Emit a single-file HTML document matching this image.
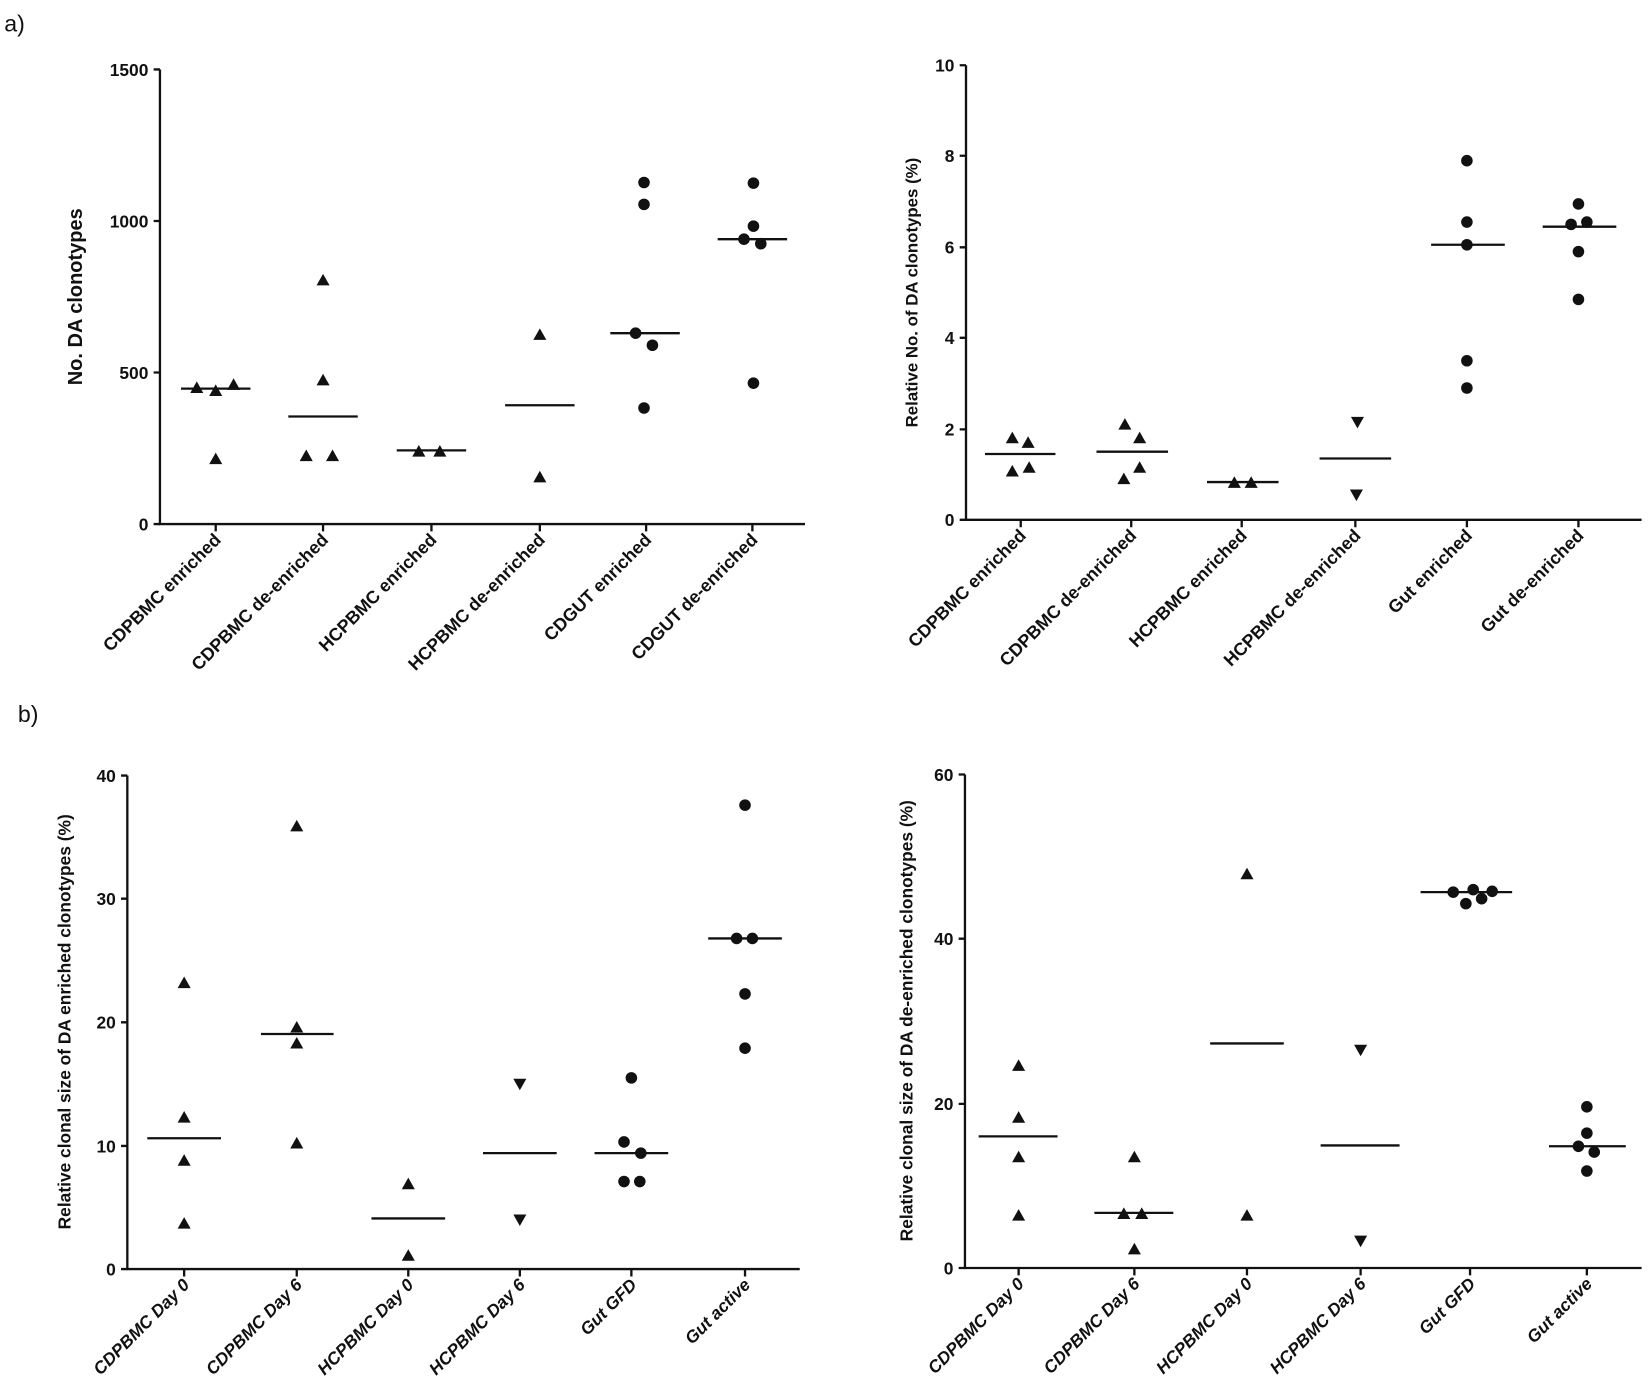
<!DOCTYPE html>
<html><head><meta charset="utf-8"><style>
html,body{margin:0;padding:0;background:#fff;}
svg{display:block;}
text{font-family:"Liberation Sans",Arial,sans-serif;fill:#111;}
.t{font-weight:bold;font-size:16.5px;text-anchor:end;}
.xl{font-weight:bold;font-size:17px;text-anchor:end;}
.xi{font-weight:bold;font-size:16.5px;text-anchor:end;font-style:italic;}
.yl{font-weight:bold;text-anchor:middle;}
</style></head><body>
<svg width="1650" height="1388" viewBox="0 0 1568 1319" xmlns="http://www.w3.org/2000/svg">
<defs>
<path id="u" d="M0,-6 L6.2,5 L-6.2,5 Z" fill="#111"/>
<path id="d" d="M0,6 L6.2,-5 L-6.2,-5 Z" fill="#111"/>
<circle id="c" r="5.5" fill="#111"/>
</defs>
<g stroke="#111" stroke-width="2.2" fill="none">
<path d="M152,66 V498 H765"/>
<path d="M146,66H152 M146,210H152 M146,354H152 M146,498H152"/>
<path d="M205,498V505 M307,498V505 M410,498V505 M513,498V505 M614,498V505 M715,498V505"/>
<path d="M918,62 V494 H1560"/>
<path d="M912,62H918 M912,148H918 M912,235H918 M912,321H918 M912,408H918 M912,494H918"/>
<path d="M970,494V501 M1075,494V501 M1180,494V501 M1288,494V501 M1394,494V501 M1500,494V501"/>
<path d="M121,737 V1206 H760"/>
<path d="M115,737H121 M115,854H121 M115,971.5H121 M115,1089H121 M115,1206H121"/>
<path d="M175,1206V1213 M282,1206V1213 M388,1206V1213 M494,1206V1213 M600,1206V1213 M708,1206V1213"/>
<path d="M917,736 V1205 H1560"/>
<path d="M911,736H917 M911,892H917 M911,1049H917 M911,1205H917"/>
<path d="M968,1205V1212 M1078,1205V1212 M1185,1205V1212 M1293,1205V1212 M1397,1205V1212 M1508,1205V1212"/>
<path d="M172,369.3H238 M274,395.8H340 M377,428H443 M480,385.1H546 M580,316.6H646 M682,227.3H748"/>
<path d="M936,431.4H1003 M1042,429.2H1110 M1147,458.1H1215 M1254,435.7H1322 M1360,232.6H1430 M1466,215.4H1536"/>
<path d="M140,1081.7H210 M248,982.6H317 M353,1157.9H423 M459,1095.8H529 M565,1095.8H635 M673,891.8H743"/>
<path d="M930,1079.9H1005 M1040,1152.6H1115 M1150,991.6H1220 M1255,1088.5H1330 M1350,847.8H1437 M1472,1089.3H1545"/>
</g>
<use href="#u" x="187" y="368.4"/><use href="#u" x="205" y="371.3"/><use href="#u" x="222" y="365.5"/><use href="#u" x="205" y="436.1"/>
<use href="#u" x="307" y="266.2"/><use href="#u" x="307" y="361.2"/><use href="#u" x="291" y="433.2"/><use href="#u" x="316" y="433.2"/>
<use href="#u" x="398" y="428.9"/><use href="#u" x="418" y="428.9"/>
<use href="#u" x="513" y="318"/><use href="#u" x="513" y="453.4"/>
<use href="#c" x="612" y="173.4"/><use href="#c" x="612" y="194.2"/><use href="#c" x="604" y="316.6"/><use href="#c" x="620" y="328.1"/><use href="#c" x="612" y="387.7"/>
<use href="#c" x="716" y="174"/><use href="#c" x="716" y="214.9"/><use href="#c" x="707" y="227.3"/><use href="#c" x="723" y="231.6"/><use href="#c" x="716" y="364.1"/>
<use href="#u" x="962" y="416.2"/><use href="#u" x="977" y="420.6"/><use href="#u" x="962" y="447.8"/><use href="#u" x="978" y="444.3"/>
<use href="#u" x="1069" y="403.3"/><use href="#u" x="1083" y="416.2"/><use href="#u" x="1068" y="455.1"/><use href="#u" x="1083" y="444.3"/>
<use href="#u" x="1173" y="458.6"/><use href="#u" x="1189" y="458.6"/>
<use href="#d" x="1290" y="401.1"/><use href="#d" x="1289" y="470.2"/>
<use href="#c" x="1394" y="152.7"/><use href="#c" x="1394" y="211"/><use href="#c" x="1394" y="232.6"/><use href="#c" x="1394" y="342.8"/><use href="#c" x="1394" y="368.7"/>
<use href="#c" x="1500" y="193.8"/><use href="#c" x="1493" y="213.2"/><use href="#c" x="1508" y="211"/><use href="#c" x="1500" y="239.1"/><use href="#c" x="1500" y="284.5"/>
<use href="#u" x="175" y="934"/><use href="#u" x="175" y="1061.8"/><use href="#u" x="175" y="1102.8"/><use href="#u" x="175" y="1162.6"/>
<use href="#u" x="282" y="785.1"/><use href="#u" x="282" y="976.2"/><use href="#u" x="282" y="991.4"/><use href="#u" x="282" y="1086.4"/>
<use href="#u" x="388" y="1125.1"/><use href="#u" x="388" y="1193.1"/>
<use href="#d" x="494" y="1030.1"/><use href="#d" x="494" y="1159.1"/>
<use href="#c" x="600" y="1024.3"/><use href="#c" x="593" y="1085.2"/><use href="#c" x="609" y="1095.8"/><use href="#c" x="593" y="1122.8"/><use href="#c" x="608" y="1122.8"/>
<use href="#c" x="708" y="765.1"/><use href="#c" x="700" y="891.8"/><use href="#c" x="715" y="891.8"/><use href="#c" x="708" y="944.5"/><use href="#c" x="708" y="996.1"/>
<use href="#u" x="968" y="1012.7"/><use href="#u" x="968" y="1061.9"/><use href="#u" x="968" y="1099.5"/><use href="#u" x="968" y="1155"/>
<use href="#u" x="1078" y="1099.5"/><use href="#u" x="1068" y="1153.4"/><use href="#u" x="1085" y="1153.4"/><use href="#u" x="1078" y="1187"/>
<use href="#u" x="1185" y="830.6"/><use href="#u" x="1185" y="1155"/>
<use href="#d" x="1293" y="997.8"/><use href="#d" x="1293" y="1179.2"/>
<use href="#c" x="1381" y="847.8"/><use href="#c" x="1400" y="845.4"/><use href="#c" x="1418" y="847"/><use href="#c" x="1393" y="858.7"/><use href="#c" x="1408" y="854"/>
<use href="#c" x="1508" y="1051.8"/><use href="#c" x="1508" y="1076.8"/><use href="#c" x="1500" y="1089.3"/><use href="#c" x="1515" y="1094.8"/><use href="#c" x="1508" y="1112.8"/>

<text x="4" y="30" font-size="22">a)</text>
<text x="17" y="686" font-size="22">b)</text>

<text class="t" x="141" y="72">1500</text><text class="t" x="141" y="216">1000</text><text class="t" x="141" y="360">500</text><text class="t" x="141" y="504">0</text>
<text class="t" x="907" y="68">10</text><text class="t" x="907" y="154">8</text><text class="t" x="907" y="241">6</text><text class="t" x="907" y="327">4</text><text class="t" x="907" y="414">2</text><text class="t" x="907" y="500">0</text>
<text class="t" x="110" y="743">40</text><text class="t" x="110" y="860">30</text><text class="t" x="110" y="977.5">20</text><text class="t" x="110" y="1095">10</text><text class="t" x="110" y="1212">0</text>
<text class="t" x="906" y="742">60</text><text class="t" x="906" y="898">40</text><text class="t" x="906" y="1055">20</text><text class="t" x="906" y="1211">0</text>

<text class="yl" font-size="19" transform="translate(78,282) rotate(-90)">No. DA clonotypes</text>
<text class="yl" font-size="16" transform="translate(872,278) rotate(-90)">Relative No. of DA clonotypes  (%)</text>
<text class="yl" font-size="16.5" transform="translate(67,971) rotate(-90)">Relative clonal size of DA enriched clonotypes (%)</text>
<text class="yl" font-size="16.5" transform="translate(867,970) rotate(-90)">Relative clonal size of DA de-enriched clonotypes (%)</text>

<text class="xl" transform="translate(211,514) rotate(-45)">CDPBMC enriched</text>
<text class="xl" transform="translate(313,514) rotate(-45)">CDPBMC de-enriched</text>
<text class="xl" transform="translate(416,514) rotate(-45)">HCPBMC enriched</text>
<text class="xl" transform="translate(519,514) rotate(-45)">HCPBMC de-enriched</text>
<text class="xl" transform="translate(620,514) rotate(-45)">CDGUT enriched</text>
<text class="xl" transform="translate(721,514) rotate(-45)">CDGUT de-enriched</text>

<text class="xl" transform="translate(976,510) rotate(-45)">CDPBMC enriched</text>
<text class="xl" transform="translate(1081,510) rotate(-45)">CDPBMC de-enriched</text>
<text class="xl" transform="translate(1186,510) rotate(-45)">HCPBMC enriched</text>
<text class="xl" transform="translate(1294,510) rotate(-45)">HCPBMC de-enriched</text>
<text class="xl" transform="translate(1400,510) rotate(-45)">Gut enriched</text>
<text class="xl" transform="translate(1506,510) rotate(-45)">Gut de-enriched</text>

<text class="xi" transform="translate(181,1222) rotate(-45)">CDPBMC Day 0</text>
<text class="xi" transform="translate(288,1222) rotate(-45)">CDPBMC Day 6</text>
<text class="xi" transform="translate(394,1222) rotate(-45)">HCPBMC Day 0</text>
<text class="xi" transform="translate(500,1222) rotate(-45)">HCPBMC Day 6</text>
<text class="xi" transform="translate(606,1222) rotate(-45)">Gut GFD</text>
<text class="xi" transform="translate(714,1222) rotate(-45)">Gut active</text>

<text class="xi" transform="translate(974,1221) rotate(-45)">CDPBMC Day 0</text>
<text class="xi" transform="translate(1084,1221) rotate(-45)">CDPBMC Day 6</text>
<text class="xi" transform="translate(1191,1221) rotate(-45)">HCPBMC Day 0</text>
<text class="xi" transform="translate(1299,1221) rotate(-45)">HCPBMC Day 6</text>
<text class="xi" transform="translate(1403,1221) rotate(-45)">Gut GFD</text>
<text class="xi" transform="translate(1514,1221) rotate(-45)">Gut active</text>
</svg>
</body></html>
